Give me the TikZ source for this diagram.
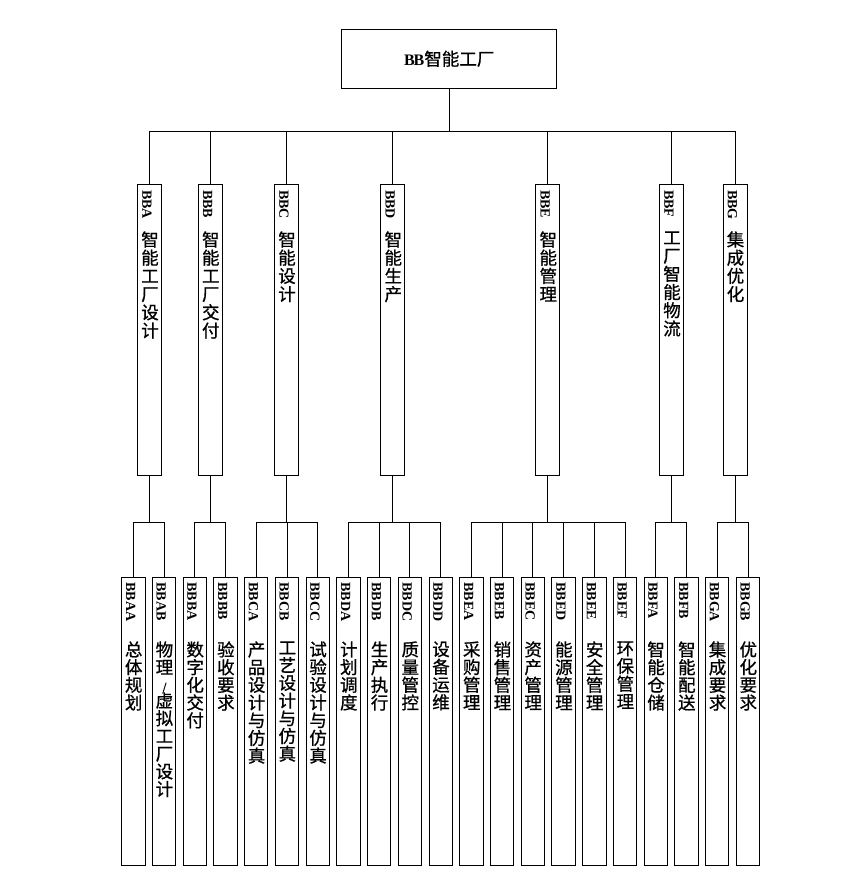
\documentclass[tikz,border=0pt]{standalone}
\usepackage{fontspec}
\setmainfont{Liberation Serif}
\newfontfamily\cjkf{Noto Sans CJK SC}[FakeBold=0.8]
\tikzset{
  box/.style={draw, line width=1pt, inner sep=0pt, rectangle},
  rootbox/.style={box, minimum width=215pt, minimum height=59pt},
  midbox/.style={box, minimum width=24pt, minimum height=291.4pt},
  leafbox/.style={box, minimum width=23.3pt, minimum height=287.3pt},
  code/.style={rotate=-90, inner sep=0pt, anchor=west, font=\bfseries\fontsize{14}{14}\selectfont},
  vtextmid/.style={inner sep=0pt, align=center, anchor=north, font=\cjkf\fontsize{17.5}{18.2}\selectfont},
  vtextleaf/.style={inner sep=0pt, align=center, anchor=north, font=\cjkf\fontsize{17.5}{17.7}\selectfont},
  link/.style={line width=1pt}
}
\newcommand\midnode[4]{%
  \node[midbox] (#1) at (#2,330) {};
  \node[code] (#1c) at ([xshift=-2.6pt,yshift=-6pt]#1.north) {#3};
  \node[vtextmid] (#1t) at ([xshift=0.5pt,yshift=-47.4pt]#1.north) {#4};
}
\newcommand\leafnode[4]{%
  \node[leafbox] (#1) at (#2,721.35) {};
  \node[code] (#1c) at ([xshift=-2.8pt,yshift=-5pt]#1.north) {#3};
  \node[vtextleaf] (#1t) at ([xshift=0.3pt,yshift=-64pt]#1.north) {#4};
}
\begin{document}
\begin{tikzpicture}[x=1pt,y=-1pt]
\useasboundingbox[fill=white] (0,0) rectangle (848,879);

\node[rootbox] (root) at (449.2,58.8) {};
\node[inner sep=0pt, font=\cjkf\fontsize{17.5}{18}\selectfont] (roott) at (root.center) {{\rmfamily\bfseries\fontsize{16}{16}\selectfont B\kern-1ptB}智能工厂};

\midnode{mA}{149.5}{BBA}{智\\能\\工\\厂\\设\\计}
\midnode{mB}{210.3}{BBB}{智\\能\\工\\厂\\交\\付}
\midnode{mC}{286.5}{BBC}{智\\能\\设\\计}
\midnode{mD}{392.8}{BBD}{智\\能\\生\\产}
\midnode{mE}{547.8}{BBE}{智\\能\\管\\理}
\midnode{mF}{671.5}{BBF}{工\\厂\\智\\能\\物\\流}
\midnode{mG}{735}{BBG}{集\\成\\优\\化}

\leafnode{lAA}{133.4}{BBAA}{总\\体\\规\\划}
\leafnode{lAB}{164.13}{BBAB}{物\\理\\{\fontsize{11}{11}\selectfont /}\\[-2pt]虚\\拟\\工\\厂\\设\\计}
\leafnode{lBA}{194.86}{BBBA}{数\\字\\化\\交\\付}
\leafnode{lBB}{225.59}{BBBB}{验\\收\\要\\求}
\leafnode{lCA}{256.32}{BBCA}{产\\品\\设\\计\\与\\仿\\真}
\leafnode{lCB}{287.05}{BBCB}{工\\艺\\设\\计\\与\\仿\\真}
\leafnode{lCC}{317.78}{BBCC}{试\\验\\设\\计\\与\\仿\\真}
\leafnode{lDA}{348.51}{BBDA}{计\\划\\调\\度}
\leafnode{lDB}{379.24}{BBDB}{生\\产\\执\\行}
\leafnode{lDC}{409.97}{BBDC}{质\\量\\管\\控}
\leafnode{lDD}{440.7}{BBDD}{设\\备\\运\\维}
\leafnode{lEA}{471.43}{BBEA}{采\\购\\管\\理}
\leafnode{lEB}{502.16}{BBEB}{销\\售\\管\\理}
\leafnode{lEC}{532.89}{BBEC}{资\\产\\管\\理}
\leafnode{lED}{563.62}{BBED}{能\\源\\管\\理}
\leafnode{lEE}{594.35}{BBEE}{安\\全\\管\\理}
\leafnode{lEF}{625.08}{BBEF}{环\\保\\管\\理}
\leafnode{lFA}{655.81}{BBFA}{智\\能\\仓\\储}
\leafnode{lFB}{686.54}{BBFB}{智\\能\\配\\送}
\leafnode{lGA}{717.27}{BBGA}{集\\成\\要\\求}
\leafnode{lGB}{748}{BBGB}{优\\化\\要\\求}

\coordinate (bar0) at (0,131.7);
\coordinate (bar1) at (0,522.7);
\foreach \c in {mA,mB,mC,mD,mE,mF,mG}
  \draw[link] (root.south) -- (root.south |- bar0) -| (\c.north);
\foreach \p/\c in {mA/lAA,mA/lAB,mB/lBA,mB/lBB,mC/lCA,mC/lCB,mC/lCC,
  mD/lDA,mD/lDB,mD/lDC,mD/lDD,mE/lEA,mE/lEB,mE/lEC,mE/lED,mE/lEE,mE/lEF,
  mF/lFA,mF/lFB,mG/lGA,mG/lGB}
  \draw[link] (\p.south) -- (\p.south |- bar1) -| (\c.north);
\end{tikzpicture}
\end{document}
